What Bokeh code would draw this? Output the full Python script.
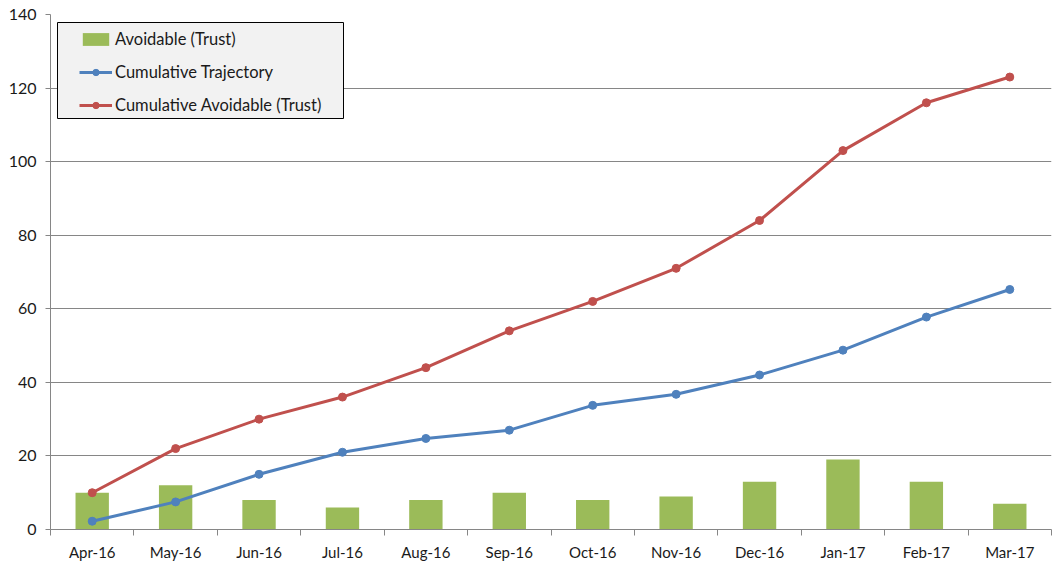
from bokeh.plotting import figure
from bokeh.models import FixedTicker, Range1d, Legend, LegendItem, BoxAnnotation
from bokeh.embed import file_html
from bokeh.resources import INLINE

# Monthly avoidable cases and cumulative series, Apr-16 to Mar-17
months = ["Apr-16", "May-16", "Jun-16", "Jul-16", "Aug-16", "Sep-16",
          "Oct-16", "Nov-16", "Dec-16", "Jan-17", "Feb-17", "Mar-17"]
avoidable = [10, 12, 8, 6, 8, 10, 8, 9, 13, 19, 13, 7]
cumulative_trajectory = [2.25, 7.5, 15, 21, 24.75, 27, 33.75, 36.75, 42, 48.75, 57.75, 65.25]
cumulative_avoidable = [10, 22, 30, 36, 44, 54, 62, 71, 84, 103, 116, 123]
y_ticks = [0, 20, 40, 60, 80, 100, 120, 140]

GREEN = "#9bbb59"
BLUE = "#4f81bd"
RED = "#c0504d"
FONT = "Lato"
TEXT = "#1a1a1a"
AXIS = "#868686"

x = list(range(len(months)))

p = figure(width=1053, height=563, output_backend="svg", toolbar_location=None,
           x_range=Range1d(-0.5, len(months) - 0.5), y_range=Range1d(0, 140),
           min_border_left=50, min_border_right=2, min_border_top=14,
           min_border_bottom=34)
p.outline_line_color = None
p.background_fill_color = "white"
p.border_fill_color = "white"

bars = p.vbar(x=x, top=avoidable, width=0.4, color=GREEN, line_color=None)

l_traj = p.line(x, cumulative_trajectory, color=BLUE, line_width=3)
s_traj = p.scatter(x, cumulative_trajectory, size=8, color=BLUE)
l_avoid = p.line(x, cumulative_avoidable, color=RED, line_width=3)
s_avoid = p.scatter(x, cumulative_avoidable, size=8, color=RED)

# x axis: labels under each month, tick marks between months
xt = FixedTicker(ticks=x, minor_ticks=[i - 0.5 for i in range(len(months) + 1)])
p.xaxis.ticker = xt
p.xaxis.major_label_overrides = {i: m for i, m in enumerate(months)}
p.xaxis.major_tick_out = 0
p.xaxis.major_tick_in = 0
p.xaxis.minor_tick_out = 6
p.xaxis.minor_tick_in = 0
p.xaxis.axis_line_color = AXIS
p.xaxis.minor_tick_line_color = AXIS
p.xaxis.major_label_text_font = FONT
p.xaxis.major_label_text_font_size = "15px"
p.xaxis.major_label_text_color = TEXT
p.xaxis.major_label_standoff = 7

p.yaxis.ticker = FixedTicker(ticks=y_ticks)
p.yaxis.minor_tick_line_color = None
p.yaxis.major_tick_out = 5
p.yaxis.major_tick_in = 0
p.yaxis.axis_line_color = AXIS
p.yaxis.major_tick_line_color = AXIS
p.yaxis.major_label_text_font = FONT
p.yaxis.major_label_text_font_size = "16px"
p.yaxis.major_label_text_color = TEXT
p.yaxis.major_label_standoff = 9

p.xgrid.grid_line_color = None
p.ygrid.ticker = FixedTicker(ticks=y_ticks)
p.ygrid.grid_line_color = AXIS
p.ygrid.grid_line_width = 1

# legend frame, drawn separately so the inner margins can differ per side
legend_box = BoxAnnotation(left=57, right=343, top=22, bottom=118,
                           left_units="canvas", right_units="canvas",
                           top_units="canvas", bottom_units="canvas",
                           fill_color="#f2f2f2", fill_alpha=1,
                           line_color="black", line_width=1, line_alpha=1)
p.add_layout(legend_box)

ITEM_H = 20      # rendered row height for 16.5px labels
SPACING = 13
legend_h = 3 * ITEM_H + 2 * SPACING
legend = Legend(items=[
    LegendItem(label="Avoidable (Trust)", renderers=[bars]),
    LegendItem(label="Cumulative Trajectory", renderers=[l_traj, s_traj]),
    LegendItem(label="Cumulative Avoidable (Trust)", renderers=[l_avoid, s_avoid]),
], location=(29, 515 - 15 - legend_h))
legend.background_fill_alpha = 0
legend.border_line_color = None
legend.label_text_font = FONT
legend.label_text_font_size = "16.5px"
legend.label_text_color = TEXT
legend.glyph_width = 33
legend.glyph_height = 16
legend.label_height = 16
legend.spacing = SPACING
legend.padding = 0
legend.margin = 0
legend.label_standoff = 3
p.add_layout(legend)

open("out.html", "w").write(file_html(p, INLINE))
